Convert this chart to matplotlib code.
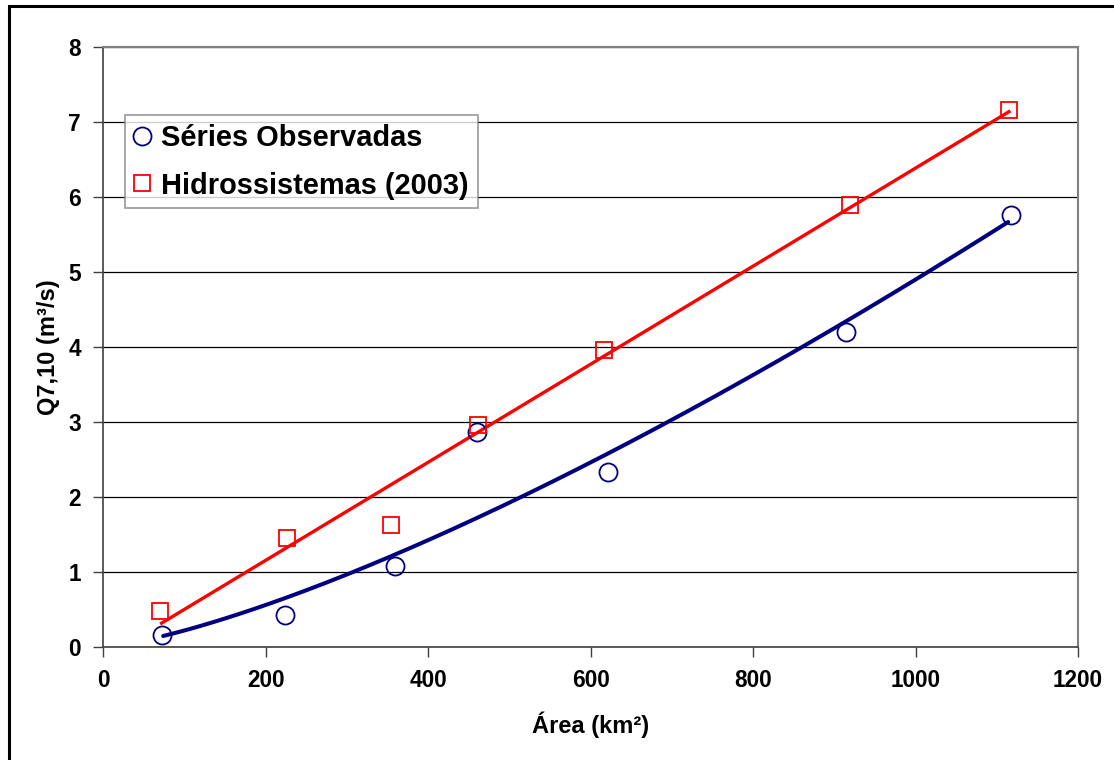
import numpy as np
import matplotlib
matplotlib.use("Agg")
import matplotlib.pyplot as plt
from matplotlib.patches import Rectangle

plt.rcParams['font.family'] = ['Liberation Sans', 'DejaVu Sans']
plt.rcParams['font.weight'] = 'bold'

# Observed series
area_obs = [72, 224, 359, 460, 621, 914, 1117]
q_obs = [0.165, 0.43, 1.08, 2.87, 2.33, 4.20, 5.76]

# Hidrossistemas (2003)
area_hid = [70, 226, 354, 461, 617, 919, 1115]
q_hid = [0.48, 1.45, 1.63, 2.96, 3.96, 5.89, 7.16]

label_obs = "Séries Observadas"
label_hid = "Hidrossistemas (2003)"

fig = plt.figure(figsize=(11.14, 7.6), dpi=100)
fig.patches.append(Rectangle((0.0085, -0.02), 1.1, 1.012, transform=fig.transFigure,
                             fill=False, edgecolor='black', linewidth=2.2, zorder=10))
ax = fig.add_axes([0.0925, 0.1487, 0.8752, 0.7893])

# Trendlines: power fit for observed, linear fit for Hidrossistemas
ao = np.array(area_obs, float)
qo = np.array(q_obs, float)
b, loga = np.polyfit(np.log(ao), np.log(qo), 1)
xo = np.linspace(ao.min() + 2, ao.max() - 3, 200)
ax.plot(xo, np.exp(loga) * xo ** b, color='#000080', lw=2.9, zorder=3,
        solid_capstyle='round')

ah = np.array(area_hid, float)
qh = np.array(q_hid, float)
m, c = np.polyfit(ah, qh, 1)
xh = np.array([ah.min() + 2, ah.max()])
ax.plot(xh, m * xh + c, color='#ff0000', lw=2.4, zorder=3)

ax.plot(area_obs, q_obs, linestyle='none', marker='o', markersize=13,
        markerfacecolor='none', markeredgecolor='#000080', markeredgewidth=1.3,
        label=label_obs, zorder=4)
ax.plot(area_hid, q_hid, linestyle='none', marker='s', markersize=12,
        markerfacecolor='none', markeredgecolor='#ff0000', markeredgewidth=1.3,
        label=label_hid, zorder=4)

ax.set_xlim(0, 1200)
ax.set_ylim(0, 8)
ax.set_xticks(np.arange(0, 1201, 200))
ax.set_yticks(np.arange(0, 9, 1))
ax.yaxis.grid(True, color='black', linewidth=0.9)
ax.set_axisbelow(True)

for s in ['left', 'bottom']:
    ax.spines[s].set_color('#404040')
    ax.spines[s].set_linewidth(1.2)
ax.spines['right'].set_color('#808080')
ax.spines['right'].set_linewidth(1.5)
ax.spines['top'].set_color('#808080')
ax.spines['top'].set_linewidth(1.5)

ax.tick_params(axis='both', direction='out', length=7, width=1.0, color='#404040',
               labelsize=16.3, pad=9)
for t in ax.get_xticklabels() + ax.get_yticklabels():
    t.set_fontweight('bold')

ax.set_xlabel('Área (km²)', fontsize=17, fontweight='bold', labelpad=14)
ax.set_ylabel('Q7,10 (m³/s)', fontsize=17, fontweight='bold', labelpad=6)

leg = ax.legend(loc='upper left', bbox_to_anchor=(0.0226, 0.8867), fontsize=20.9,
                frameon=True, fancybox=False, edgecolor='#808080', handlelength=0.6,
                handletextpad=0.35, borderpad=0.3, labelspacing=0.68, borderaxespad=0)
leg.get_frame().set_linewidth(1.2)
for t in leg.get_texts():
    t.set_fontweight('bold')

fig.savefig('out.png', dpi=100)
